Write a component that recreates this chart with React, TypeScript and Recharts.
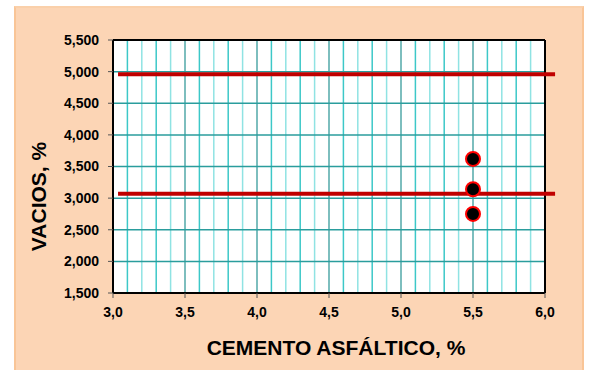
import React from 'react';
import { ScatterChart, Scatter, XAxis, YAxis, ReferenceLine, Label, CartesianGrid } from 'recharts';

const xTicks = [3.0, 3.5, 4.0, 4.5, 5.0, 5.5, 6.0];
const yTicks = [1500, 2000, 2500, 3000, 3500, 4000, 4500, 5000, 5500];
const minorX = [3.1, 3.2, 3.3, 3.4, 3.5, 3.6, 3.7, 3.8, 3.9, 4.0, 4.1, 4.2, 4.3, 4.4, 4.5, 4.6, 4.7, 4.8, 4.9, 5.0, 5.1, 5.2, 5.3, 5.4, 5.5, 5.6, 5.7, 5.8, 5.9];
const gridY = [2000, 2500, 3000, 3500, 4000, 4500, 5000];
const pointX = [5.5, 5.5, 5.5];
const pointY = [3620, 3140, 2750];
const limitLow = 3070;
const limitHigh = 4960;
const limitStart = 3.035;
const limitEnd = 6.07;

const points = pointX.map((x, i) => ({ x, y: pointY[i] }));

const FONT = '"Liberation Sans", Arial, sans-serif';

const minorColor = (v: number) => {
  const k = Math.round(v * 10) % 5;
  if (k === 0) return '#52a9a9';
  if (k === 1 || k === 3) return '#3cc8c8';
  return '#8fe3e3';
};

const Dot = (props: any) => {
  const { cx, cy } = props;
  return <circle cx={cx} cy={cy} r={7} fill="#000" stroke="#ff0000" strokeWidth={2} />;
};

export default function App() {
  return (
    <div style={{ position: 'absolute', left: 0, top: 0, width: 592, height: 370, background: '#fff' }}>
      <div
        style={{
          position: 'absolute',
          left: 14,
          top: 6,
          width: 566,
          height: 364,
          background: '#FCD5B5',
          borderLeft: '2px solid #F9C597',
          borderRight: '2px solid #F9C597',
          borderTop: '2px solid #FAD0AA',
        }}
      />
      <div style={{ position: 'absolute', left: 0, top: 0 }}>
        <ScatterChart width={592} height={370} margin={{ top: 40, right: 47, left: 0, bottom: 0 }}>
          <CartesianGrid fill="#ffffff" horizontal={false} vertical={false} />
          <XAxis
            type="number"
            dataKey="x"
            domain={[3, 6]}
            ticks={xTicks}
            allowDataOverflow
            height={77}
            tickSize={5}
            tickMargin={9}
            axisLine={{ stroke: '#000', strokeWidth: 2 }}
            tickLine={{ stroke: '#555' }}
            tick={{ fill: '#000', fontFamily: FONT, fontWeight: 'bold', fontSize: 14 }}
            tickFormatter={(v: number) => v.toFixed(1).replace('.', ',')}
          >
            <Label
              content={(p: any) => (
                <text
                  x={p.viewBox.x + p.viewBox.width / 2 + 7}
                  y={p.viewBox.y + 62}
                  textAnchor="middle"
                  fontFamily={FONT}
                  fontWeight="bold"
                  fontSize={21}
                  fill="#000"
                >
                  CEMENTO ASFÁLTICO, %
                </text>
              )}
            />
          </XAxis>
          <YAxis
            type="number"
            dataKey="y"
            domain={[1500, 5500]}
            ticks={yTicks}
            allowDataOverflow
            width={113}
            tickSize={5}
            tickMargin={9}
            axisLine={{ stroke: '#000', strokeWidth: 2 }}
            tickLine={{ stroke: '#555' }}
            tick={{ fill: '#000', fontFamily: FONT, fontWeight: 'bold', fontSize: 14 }}
            tickFormatter={(v: number) => v.toLocaleString('en-US')}
          >
            <Label
              content={(p: any) => {
                const cx = 46;
                const cy = p.viewBox.y + p.viewBox.height / 2 + 30;
                return (
                  <text
                    x={cx}
                    y={cy}
                    transform={`rotate(-90 ${cx} ${cy})`}
                    textAnchor="middle"
                    fontFamily={FONT}
                    fontWeight="bold"
                    fontSize={21}
                    fill="#000"
                  >
                    VACIOS, %
                  </text>
                );
              }}
            />
          </YAxis>
          {minorX.map((v) => (
            <ReferenceLine key={'vx' + v} x={v} stroke={minorColor(v)} strokeWidth={1.5} />
          ))}
          {gridY.map((v) => (
            <ReferenceLine key={'hy' + v} y={v} stroke="#2a9d9d" strokeWidth={1.5} />
          ))}
          <ReferenceLine y={5500} stroke="#000" strokeWidth={2} />
          <ReferenceLine x={6} stroke="#000" strokeWidth={2} />
          <ReferenceLine
            segment={[{ x: limitStart, y: limitHigh }, { x: limitEnd, y: limitHigh }]}
            stroke="#c00000"
            strokeWidth={4}
            ifOverflow="visible"
          />
          <ReferenceLine
            segment={[{ x: limitStart, y: limitLow }, { x: limitEnd, y: limitLow }]}
            stroke="#c00000"
            strokeWidth={4}
            ifOverflow="visible"
          />
          <Scatter data={points} shape={<Dot />} isAnimationActive={false} />
        </ScatterChart>
      </div>
    </div>
  );
}
